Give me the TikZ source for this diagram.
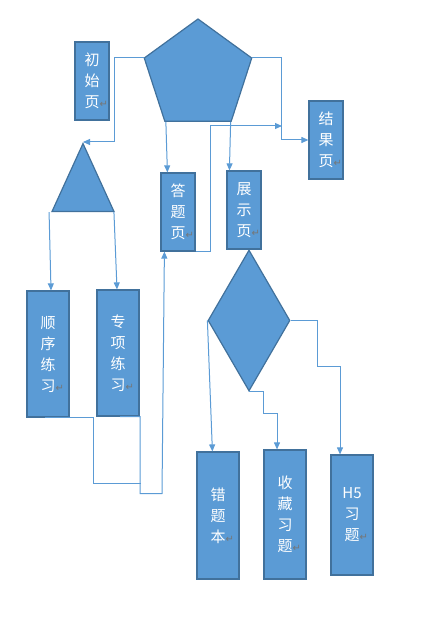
\documentclass[tikz,border=0pt]{standalone}
\usepackage{fontspec}
\newfontfamily\cjk{Noto Sans CJK SC}
\newfontfamily\sym{DejaVu Sans}
\usetikzlibrary{arrows.meta, shapes.geometric, calc}
\definecolor{boxfill}{HTML}{5B9BD5}
\definecolor{boxedge}{HTML}{41719C}
\definecolor{linkc}{HTML}{5B9BD5}
\definecolor{retc}{HTML}{767676}
\newcommand{\ret}{\rlap{\sym\fontsize{10}{10}\selectfont\color{retc}↵}}

\begin{document}
\begin{tikzpicture}[x=1pt, y=-1pt,
    shp/.style={draw=boxedge, fill=boxfill, line width=1.2pt, inner sep=0pt},
    page/.style={shp, minimum width=34pt, minimum height=78pt, text=white, align=center, font=\cjk\fontsize{15}{21}\selectfont},
    tall/.style={page, minimum width=42pt},
    wire/.style={draw=linkc, line width=1pt},
    link/.style={wire, -{Triangle[length=7pt, width=6pt]}}]
    \useasboundingbox (0,0) rectangle (431,631);
    % shapes
    \node[shp, regular polygon, regular polygon sides=5, minimum size=113pt] (pent) at (198,75.5) {};
    \node[shp, isosceles triangle, shape border rotate=90, isosceles triangle stretches, minimum width=62pt, minimum height=68pt, anchor=apex] (tri) at (83,142) {};
    \node[shp, diamond, minimum width=82pt, minimum height=141pt] (dia) at (249,320.5) {};
    % pages
    \node[page] (start) at (92,81) {初\\始\\页\ret};
    \node[page] (result) at (326,140) {结\\果\\页\ret};
    \node[page] (answer) at (178,212) {答\\题\\页\ret};
    \node[page] (show) at (244,210) {展\\示\\页\ret};
    \node[tall, minimum height=126pt] (seq) at (48,354) {顺\\序\\练\\习\ret};
    \node[tall, minimum height=126pt] (special) at (118,353) {专\\项\\练\\习\ret};
    \node[tall, minimum height=127pt] (wrong) at (218,515.5) {错\\题\\本\ret};
    \node[tall, minimum height=129pt] (fav) at (285,514.5) {收\\藏\\习\\题\ret};
    \node[tall, minimum height=120pt] (hfive) at (352,515) {H5\\习\\题\ret};
    \coordinate (meet) at (282,126);
    % connectors
    \draw[link] (pent.corner 2) -- ++(-29,0) |- (tri.apex);
    \draw[link] (pent.corner 5) -- ++(29,0) |- (result.west);
    \draw[link] ($(pent.corner 3)+(1.5,0)$) -- ($(answer.north west)+(7,0)$);
    \draw[link] ($(pent.corner 4)+(-1,0)$) -- ($(show.north west)+(3,0)$);
    \draw[link] (answer.south east) -- ++(15,0) |- (meet);
    \draw[link] ($(tri.left corner)+(-2,0)$) -- ($(seq.north)+(3,0)$);
    \draw[link] ($(tri.right corner)+(-1,0)$) -- ($(special.north)+(-1,0)$);
    \draw[wire] ($(seq.south)+(-3,0)$) -- ++(48,0) -- ++(0,66) -- ++(48,0);
    \draw[link] ($(special.south)+(2,0)$) -- ++(20,0) -- ++(0,77) -- ++(22,0) -- ($(answer.south west)+(4,0)$);
    \draw[link] (dia.west) -- ($(wrong.north west)+(16,0)$);
    \draw[link] (dia.south) -- ++(14,0) -- ++(0,22) -| ($(fav.north)+(-8,0)$);
    \draw[link] (dia.east) -- ++(27,0) -- ++(0,46) -| ($(hfive.north)+(-12,0)$);
\end{tikzpicture}
\end{document}
